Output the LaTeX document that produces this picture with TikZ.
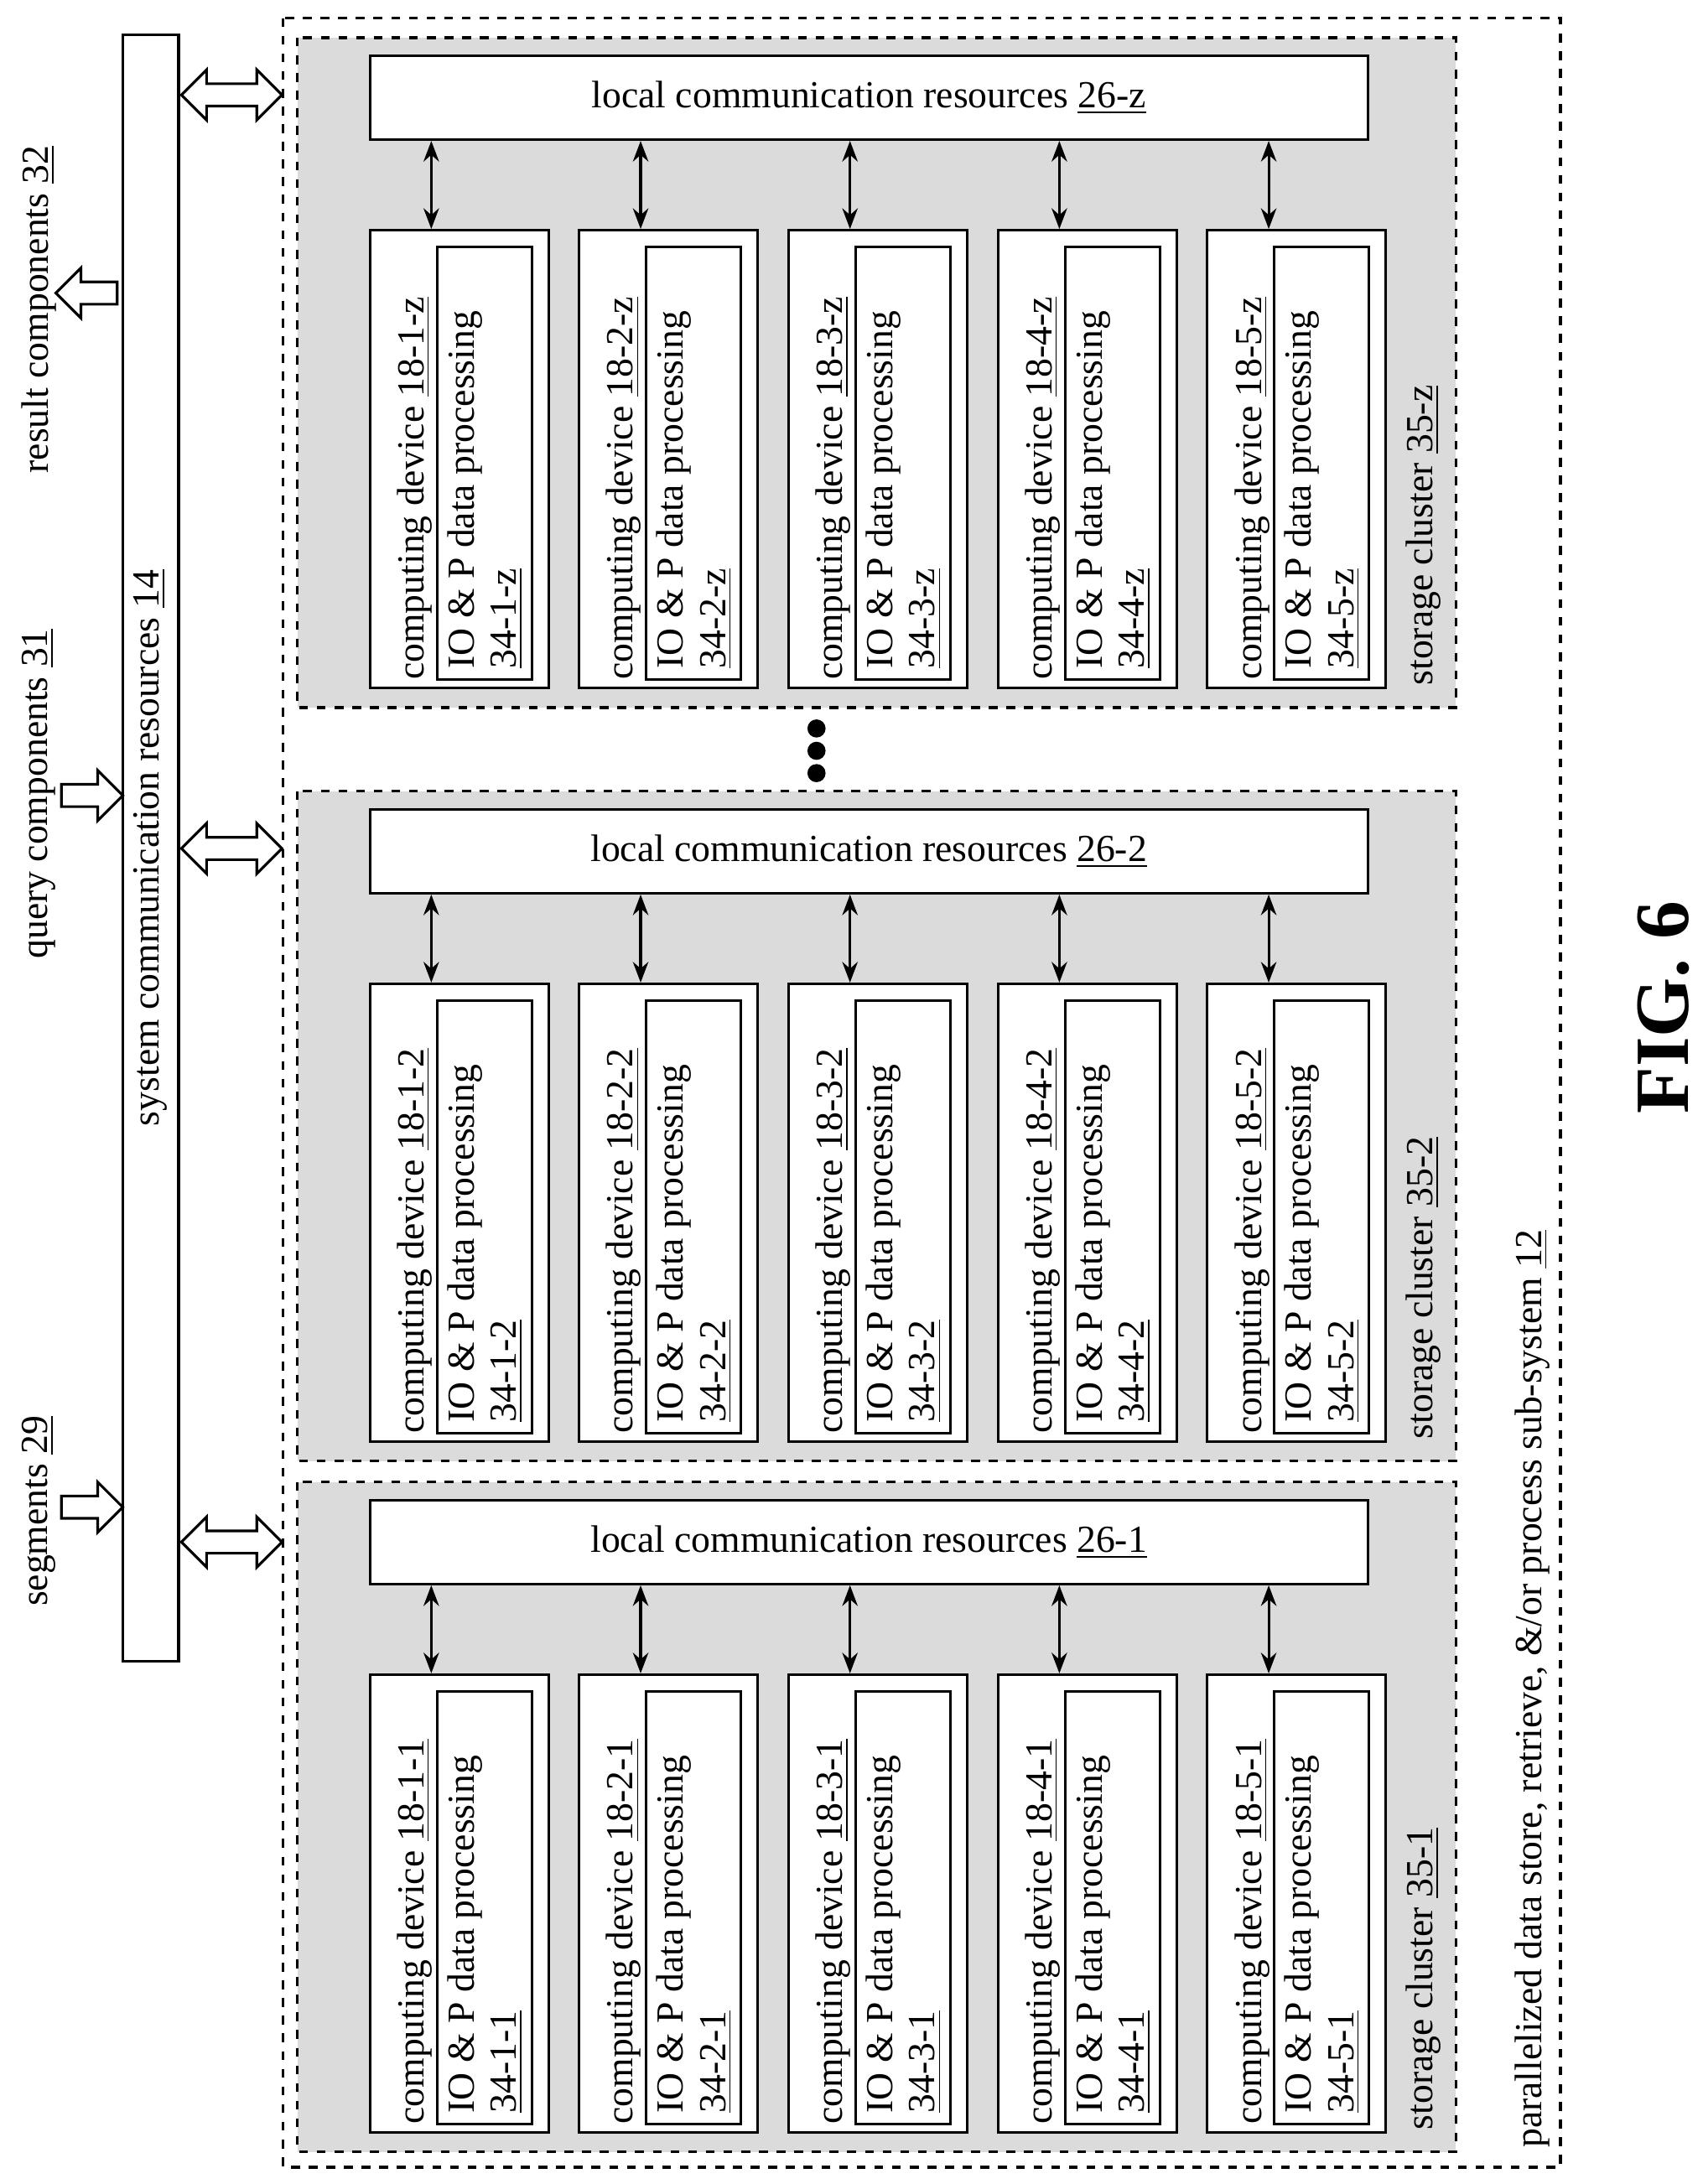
\documentclass[tikz,border=0pt]{standalone}
\usepackage{fontspec}
\setmainfont{Liberation Serif}
\usetikzlibrary{arrows.meta}
\begin{document}
\begin{tikzpicture}[x=0.01665cm,y=-0.01665cm,line width=0.9pt,font=\fontsize{13}{15}\selectfont,
 box/.style={draw,fill=white,inner sep=0pt},
 rtxt/.style={rotate=90,anchor=west,inner sep=0pt},
 dbl/.pic={\draw[fill=white] (-36,-8)--(-18,-8)--(-18,-18)--(0,0)--(-18,18)--(-18,8)--(18,8)--(18,18)--(0,0) (36,0)--(18,-18)--(18,-8)--cycle;},
 dblh/.pic={\draw[fill=white] (-36,0)--(-18,-18)--(-18,-8)--(18,-8)--(18,-18)--(36,0)--(18,18)--(18,8)--(-18,8)--(-18,18)--cycle;},
 sar/.pic={\draw[fill=white] (-22,-8)--(4,-8)--(4,-18)--(22,0)--(4,18)--(4,8)--(-22,8)--cycle;}]
\useasboundingbox (0,0) rectangle (1220,1565);
% outer
\draw[dashed] (203,13) rectangle (1118,1553);
\node[rtxt] (outer) at (1098,1540) {parallelized data store, retrieve, \&/or process sub-system \underline{12}};
% system bar
\node[box,minimum width=0.666cm,minimum height=19.4cm] (sys) at (108,607.5) {};
\node[rotate=90] at (108,607.5) {system communication resources \underline{14}};
% left labels
\node[rtxt] (seg) at (28,1152) {segments \underline{29}};
\node[rtxt] (qry) at (28,688) {query components \underline{31}};
\node[rtxt] (res) at (28,340) {result components \underline{32}};
\pic at (66,1080) {sar};
\pic at (66,570) {sar};
\pic[rotate=180] at (62,210) {sar};
\foreach \y in {68,608,1105} \pic at (166,\y) {dblh};
% dots
\foreach \y in {522,538,554} \fill (585,\y) circle (6.5);
% clusters
\foreach \y/\s in {27/z,567/2,1062/1}{
 \draw[dashed,fill=gray!28] (213,\y) rectangle (1043,\y+480);
 \node[box,minimum width=11.9cm,minimum height=1.0cm] (lc\s) at (622.5,\y+43) {local communication resources \underline{26-\s}};
 \node[rtxt] at (1020,\y+465) {storage cluster \underline{35-\s}};
 \foreach \i/\l in {1/265,2/415,3/565,4/715,5/865}{
  \node[box,minimum width=2.13cm,minimum height=5.46cm] (d\i\s) at (\l+64,\y+302) {};
  \node[box,minimum width=1.13cm,minimum height=5.16cm] (p\i\s) at (\l+82,\y+305) {};
  \node[rtxt] at (\l+32,\y+461) {computing device \underline{18-\i-\s}};
  \node[rtxt] at (\l+68,\y+453) {IO \& P data processing};
  \node[rtxt] at (\l+98,\y+453) {\underline{34-\i-\s}};
  \draw[{Stealth[length=7pt]}-{Stealth[length=7pt]}] (lc\s.south -| \l+44,0) -- (d\i\s.north -| \l+44,0);
 }
}
\node[rotate=90,font=\fontsize{26}{30}\selectfont\bfseries] (fig) at (1192,722) {FIG. 6};
\end{tikzpicture}
\end{document}
